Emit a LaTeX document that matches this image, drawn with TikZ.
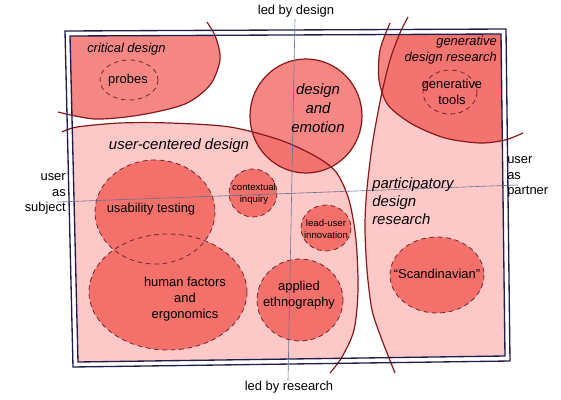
\documentclass[tikz,border=0pt]{standalone}
\usepackage{fontspec}
\setmainfont{Liberation Sans}
\usetikzlibrary{shapes.geometric}

\definecolor{pinkfill}{RGB}{253,200,200}
\definecolor{blobfill}{RGB}{244,112,106}
\definecolor{patchred}{RGB}{238,70,66}
\definecolor{borderred}{RGB}{135,25,25}
\definecolor{dashred}{RGB}{110,40,40}
\definecolor{framenavy}{RGB}{30,30,75}
\definecolor{axisgray}{RGB}{105,115,145}

\tikzset{
  region/.style = {fill=pinkfill},
  patch/.style = {fill=patchred, fill opacity=0.65},
  border/.style = {draw=borderred, line width=0.9pt},
  blob/.style = {fill=blobfill},
  blobline/.style = {draw=dashred, line width=0.6pt, dash pattern=on 3.5pt off 2.8pt},
  frameline/.style = {draw=framenavy, line width=1pt},
  axis/.style = {draw=axisgray, line width=0.45pt},
  method/.style = {align=center, inner sep=0pt, font=\fontsize{9.7}{12}\selectfont},
  smallmethod/.style = {align=center, inner sep=0pt, font=\fontsize{7.2}{9}\selectfont},
  field/.style = {inner sep=0pt, font=\itshape\fontsize{11.2}{13.5}\selectfont},
  subfield/.style = {inner sep=0pt, font=\itshape\fontsize{9.7}{11.5}\selectfont},
  axislabel/.style = {inner sep=0pt, font=\fontsize{9.7}{11.5}\selectfont}
}

\begin{document}
\begin{tikzpicture}[x=0.75pt, y=-0.75pt]
  \useasboundingbox (0,0) rectangle (561,400);
  % pink and red regions, clipped to the frame
  \begin{scope}
    \clip (70,36) -- (501,34) -- (505,356) -- (78,362) -- cycle;
    \path[region] plot[smooth] coordinates {(408,17) (400,33) (390,60) (381,97) (373,140) (369,170) (366,200) (365,230) (367,270) (372,310) (382,340) (395,373)}
      -- (540,380) -- (540,10) -- cycle;
    \path[region] plot[smooth] coordinates {(62,132) (77,127) (120,123) (170,123) (230,127) (280,140) (315,156) (336,172) (349,200) (356,240) (358,290) (354,330) (342,357) (330,373)}
      -- (30,380) -- (30,132) -- cycle;
    \path[patch] plot[smooth] coordinates {(207,22) (216,38) (220,60) (210,85) (185,104) (140,115) (95,119) (58,112)}
      -- (30,112) -- (30,10) -- cycle;
    \path[patch] plot[smooth] coordinates {(390,23) (380,50) (379,80) (388,105) (412,124) (445,138) (480,143) (505,140) (523,133)}
      -- (540,133) -- (540,10) -- cycle;
  \end{scope}
  \path[patch] (306,116) circle [x radius=56, y radius=57];
  % methods
  \path[blob] (155,212) ellipse [x radius=60, y radius=52];
  \path[blob] (168,292) ellipse [x radius=79, y radius=58];
  \path[blob] (253,193) circle [radius=24];
  \path[blob] (326,228) ellipse [x radius=25, y radius=23];
  \path[blob] (300,300) ellipse [x radius=43, y radius=41];
  \path[blob] (437,275) ellipse [x radius=47, y radius=38];
  \draw[blobline] (155,212) ellipse [x radius=60, y radius=52];
  \draw[blobline] (168,292) ellipse [x radius=79, y radius=58];
  \draw[blobline] (253,193) circle [radius=24];
  \draw[blobline] (326,228) ellipse [x radius=25, y radius=23];
  \draw[blobline] (300,300) ellipse [x radius=43, y radius=41];
  \draw[blobline] (437,275) ellipse [x radius=47, y radius=38];
  \draw[blobline] (129,80) ellipse [x radius=29, y radius=20];
  \draw[blobline] (450,92) ellipse [x radius=27, y radius=22];
  % region borders
  \draw[border] plot[smooth] coordinates {(207,22) (216,38) (220,60) (210,85) (185,104) (140,115) (95,119) (58,112)};
  \draw[border] plot[smooth] coordinates {(62,132) (77,127) (120,123) (170,123) (230,127) (280,140) (315,156) (336,172) (349,200) (356,240) (358,290) (354,330) (342,357) (330,373)};
  \draw[border] plot[smooth] coordinates {(408,17) (400,33) (390,60) (381,97) (373,140) (369,170) (366,200) (365,230) (367,270) (372,310) (382,340) (395,373)};
  \draw[border] plot[smooth] coordinates {(390,23) (380,50) (379,80) (388,105) (412,124) (445,138) (480,143) (505,140) (523,133)};
  \draw[border] (306,116) circle [x radius=56, y radius=57];
  % frame
  \draw[frameline] (65,31) -- (506,29) -- (510,361) -- (73,367) -- cycle;
  \draw[frameline] (70,36) -- (501,34) -- (505,356) -- (78,362) -- cycle;
  % axes
  \coordinate (north) at (295,19);
  \coordinate (south) at (288,381);
  \coordinate (west) at (57,202);
  \coordinate (east) at (518,185);
  \draw[axis] (north) -- (south);
  \draw[axis] (west) -- (east);
  \node[axislabel] (design) at (296,11) {led by design};
  \node[axislabel] (research) at (289,387) {led by research};
  \node[axislabel, align=right, anchor=east] (subject) at (66,194) {user\\as\\subject};
  \node[axislabel, align=left, anchor=west] (partner) at (507,177) {user\\as\\partner};
  % labels
  \node[subfield, anchor=west] (critical) at (87,49) {critical design};
  \node[subfield, align=right, anchor=east] (generative) at (497,50) {generative\\design research};
  \node[field] (ucd) at (179,146) {user-centered design};
  \node[field, align=center, font=\itshape\fontsize{11.2}{14}\selectfont] (emotion) at (318,108) {design\\and\\emotion};
  \node[field, align=left, anchor=west] (participatory) at (372,201) {participatory\\design\\research};
  \node[method] (probes) at (128,80) {probes};
  \node[method] (tools) at (452,92) {generative\\tools};
  \node[method] (usability) at (151,209) {usability testing};
  \node[method] (human) at (185,299) {human factors\\and\\ergonomics};
  \node[smallmethod] (inquiry) at (254,194) {contextual\\inquiry};
  \node[smallmethod] (leaduser) at (326,229) {lead-user\\innovation};
  \node[method] (ethno) at (299,295) {applied\\ethnography};
  \node[method] (scandinavian) at (437,274) {“Scandinavian”};
\end{tikzpicture}
\end{document}
